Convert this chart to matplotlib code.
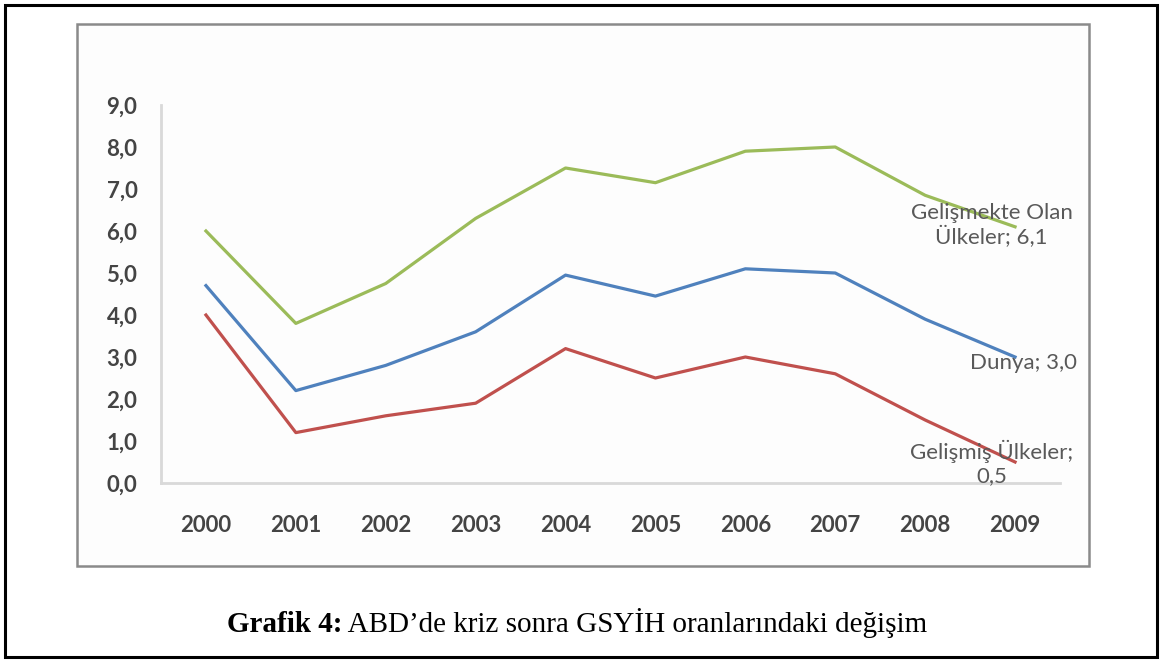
import matplotlib.pyplot as plt
from matplotlib.patches import Rectangle

# data
years = ["2000", "2001", "2002", "2003", "2004", "2005", "2006", "2007", "2008", "2009"]
gelismekte = [6.0, 3.8, 4.75, 6.3, 7.5, 7.15, 7.9, 8.0, 6.85, 6.1]
dunya = [4.7, 2.2, 2.8, 3.6, 4.95, 4.45, 5.1, 5.0, 3.9, 3.0]
gelismis = [4.0, 1.2, 1.6, 1.9, 3.2, 2.5, 3.0, 2.6, 1.5, 0.5]
yticks = [0, 1, 2, 3, 4, 5, 6, 7, 8, 9]
ytick_labels = ["0,0", "1,0", "2,0", "3,0", "4,0", "5,0", "6,0", "7,0", "8,0", "9,0"]

W, H = 1166, 661
fig = plt.figure(figsize=(W / 100, H / 100), dpi=100)

# outer black frame
fig.patches.append(Rectangle((5 / W, 4 / H), (1157 - 5) / W, (656 - 4) / H,
                             transform=fig.transFigure, fill=False, zorder=-2,
                             edgecolor="black", linewidth=2.2))
# grey frame of the pasted chart
fig.patches.append(Rectangle((77 / W, (H - 566) / H), (1089 - 77) / W, (566 - 24) / H,
                             transform=fig.transFigure, fill=True, facecolor="#fdfdfd",
                             edgecolor="#8a8a8a", linewidth=1.8, zorder=-1))

ax = fig.add_axes([161 / W, (H - 483) / H, (1060 - 161) / W, (483 - 105) / H])
ax.set_facecolor("none")
x = list(range(len(years)))

ax.plot(x, gelismekte, color="#9BBB59", linewidth=2.3)
ax.plot(x, dunya, color="#4F81BD", linewidth=2.3)
ax.plot(x, gelismis, color="#C0504D", linewidth=2.3)

ax.set_xlim(-0.5, 9.5)
ax.set_ylim(0, 9)
ax.set_yticks(yticks)
ax.set_yticklabels(ytick_labels)
ax.set_xticks(x)
ax.set_xticklabels(years)

for lbl in ax.get_xticklabels() + ax.get_yticklabels():
    lbl.set_fontfamily("Lato")
    lbl.set_fontweight("bold")
    lbl.set_color("#444444")
    lbl.set_fontsize(16)

ax.tick_params(axis="y", length=0, pad=17)
ax.tick_params(axis="x", length=0, pad=23)

for s in ["top", "right"]:
    ax.spines[s].set_visible(False)
for s in ["left", "bottom"]:
    ax.spines[s].set_color("#d9d9d9")
    ax.spines[s].set_linewidth(2)

# data labels at the end of each line
lab = dict(fontfamily="Lato", fontsize=16, color="#595959", ha="center",
           va="center", textcoords="offset points", multialignment="center")
ax.annotate("Gelişmekte Olan\nÜlkeler; 6,1", xy=(9, gelismekte[-1]), xytext=(-17, 1), **lab)
ax.annotate("Dunya; 3,0", xy=(9, dunya[-1]), xytext=(6, -4), **lab)
ax.annotate("Gelişmiş Ülkeler;\n0,5", xy=(9, gelismis[-1]), xytext=(-17, -1), **lab)

# caption with bold prefix
cap_y = (H - 632) / H
t1 = fig.text(227 / W, cap_y, "Grafik 4:", fontfamily="Liberation Serif",
              fontweight="bold", fontsize=21, ha="left", va="baseline")
t2 = fig.text(0, cap_y, " ABD’de kriz sonra GSYİH oranlarındaki değişim",
              fontfamily="Liberation Serif", fontsize=21, ha="left", va="baseline")
fig.canvas.draw()
bb = t1.get_window_extent()
t2.set_x(bb.x1 / W)

fig.savefig("out.png", dpi=100)
